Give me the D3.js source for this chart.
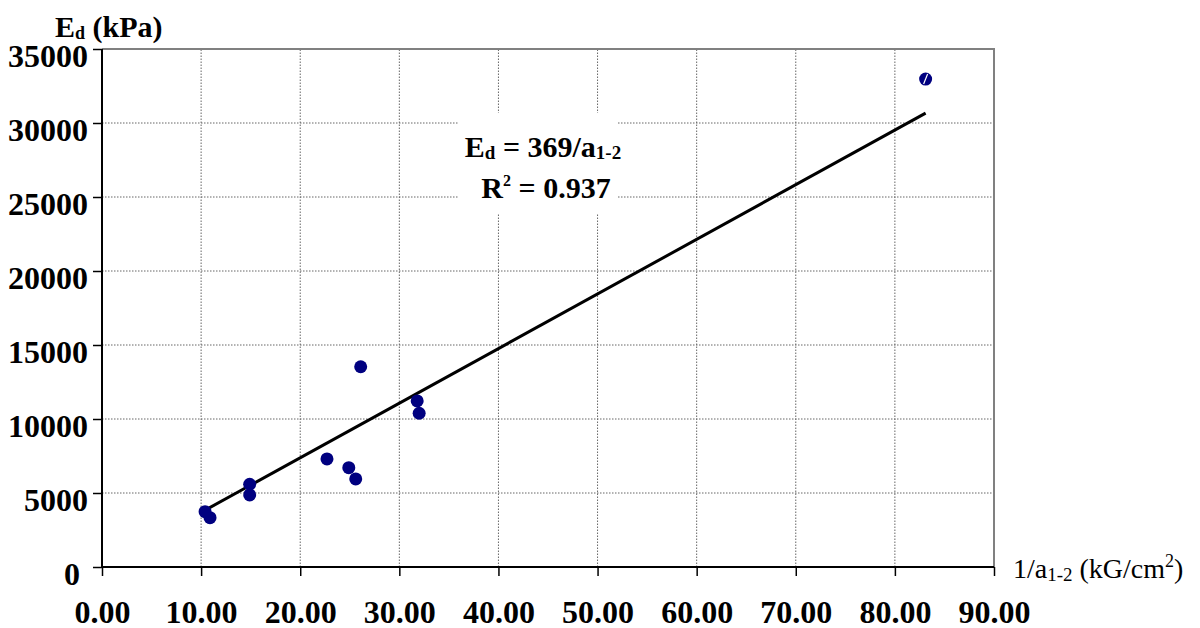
<!DOCTYPE html>
<html>
<head>
<meta charset="utf-8">
<script src="https://cdn.jsdelivr.net/npm/d3@7"></script>
<style>
  body { margin: 0; background: #fff; }
  svg text { font-family: 'Liberation Serif', 'Times New Roman', serif; }
</style>
</head>
<body>
<svg id="chart" width="1200" height="628"></svg>
<script>
// values
const invA = [10.4, 10.9, 14.9, 14.9, 22.7, 24.9, 25.6, 26.1, 31.8, 32.0, 83.1];
const edKpa = [3740, 3330, 5590, 4870, 7300, 6710, 5950, 13530, 11220, 10390, 32970];
const xTicks = [0, 10, 20, 30, 40, 50, 60, 70, 80, 90];
const yTicks = [0, 5000, 10000, 15000, 20000, 25000, 30000, 35000];
const trendSlope = 369;
const trendRange = [10.6, 83.1];

const svg = d3.select('#chart');
const x = d3.scaleLinear().domain([0, 90]).range([102, 994]);
const y = d3.scaleLinear().domain([0, 35000]).range([567, 49]);

// grid
svg.append('g')
  .selectAll('line')
  .data(xTicks.slice(1, -1))
  .enter().append('line')
  .attr('x1', d => x(d)).attr('x2', d => x(d))
  .attr('y1', y(0)).attr('y2', y(35000))
  .attr('stroke', '#666').attr('stroke-width', 1).attr('stroke-dasharray', '1.5,1.5');

svg.append('g')
  .selectAll('line')
  .data(yTicks.slice(1, -1))
  .enter().append('line')
  .attr('x1', x(0)).attr('x2', x(90))
  .attr('y1', d => y(d)).attr('y2', d => y(d))
  .attr('stroke', '#666').attr('stroke-width', 1).attr('stroke-dasharray', '1.5,1.5');

// grey frame top + right
svg.append('path')
  .attr('d', `M${x(0)},${y(35000)}H${x(90)}V${y(0)}`)
  .attr('fill', 'none').attr('stroke', '#808080').attr('stroke-width', 2);

// axes
const yAxis = svg.append('g')
  .attr('transform', `translate(${x(0)},0)`)
  .call(d3.axisLeft(y).tickValues(yTicks).tickSize(9).tickPadding(5).tickFormat(d3.format('d')));
const xAxis = svg.append('g')
  .attr('transform', `translate(0,${y(0)})`)
  .call(d3.axisBottom(x).tickValues(xTicks).tickSize(9).tickPadding(24).tickFormat(d3.format('.2f')));

[yAxis, xAxis].forEach(a => {
  a.select('.domain').attr('stroke', '#000').attr('stroke-width', 2);
  a.selectAll('.tick line').attr('stroke', '#000').attr('stroke-width', 1.5);
  a.selectAll('.tick text')
    .attr('font-family', "'Liberation Serif', serif")
    .attr('font-size', 32).attr('font-weight', 'bold').attr('fill', '#000');
});
yAxis.selectAll('.tick text').attr('dy', '0.56em');
yAxis.selectAll('.tick').filter(d => d === 0).select('text').attr('x', -22);
yAxis.select('.domain').attr('d', `M0,${y(0)}V${y(35000)}`);
xAxis.select('.domain').attr('d', `M${x(0)},0H${x(90)}`);

// annotation box
svg.append('rect')
  .attr('x', 458).attr('y', 113).attr('width', 159).attr('height', 100)
  .attr('fill', '#fff');

// trend line
svg.append('line')
  .attr('x1', x(trendRange[0])).attr('y1', y(trendSlope * trendRange[0]))
  .attr('x2', x(trendRange[1])).attr('y2', y(trendSlope * trendRange[1]))
  .attr('stroke', '#000').attr('stroke-width', 3);

// points
const pts = invA.map((v, i) => ({ x: v, y: edKpa[i] }));
svg.append('g')
  .selectAll('circle')
  .data(pts)
  .enter().append('circle')
  .attr('cx', d => x(d.x)).attr('cy', d => y(d.y))
  .attr('r', 6.5)
  .attr('fill', '#000080');

const last = pts[pts.length - 1];
svg.append('line')
  .attr('x1', x(last.x) - 2).attr('y1', y(last.y) + 5)
  .attr('x2', x(last.x) + 2).attr('y2', y(last.y) - 5)
  .attr('stroke', '#fff').attr('stroke-width', 1.2);

// y title
const yt = svg.append('text')
  .attr('x', 55).attr('y', 37)
  .attr('font-size', 30).attr('font-weight', 'bold');
yt.append('tspan').text('E');
yt.append('tspan').attr('font-size', 18).attr('dy', 2).text('d');
yt.append('tspan').attr('dy', -2).text(' (kPa)');

// annotation
const a1 = svg.append('text')
  .attr('x', 543).attr('y', 157)
  .attr('text-anchor', 'middle')
  .attr('font-size', 30).attr('font-weight', 'bold');
a1.append('tspan').text('E');
a1.append('tspan').attr('font-size', 19).attr('dy', 2).text('d');
a1.append('tspan').attr('dy', -2).text(' = 369/a');
a1.append('tspan').attr('font-size', 19).attr('dy', 2).text('1-2');

const a2 = svg.append('text')
  .attr('x', 546).attr('y', 198)
  .attr('text-anchor', 'middle')
  .attr('font-size', 30).attr('font-weight', 'bold');
a2.append('tspan').text('R');
a2.append('tspan').attr('font-size', 16).attr('dy', -12).text('2');
a2.append('tspan').attr('dy', 12).text(' = 0.937');

// x title
const xt = svg.append('text')
  .attr('x', 1013).attr('y', 578)
  .attr('font-size', 28);
xt.append('tspan').text('1/a');
xt.append('tspan').attr('font-size', 19).attr('dy', 3).text('1-2');
xt.append('tspan').attr('dy', -3).text(' (kG/cm');
xt.append('tspan').attr('font-size', 18).attr('dy', -11).text('2');
xt.append('tspan').attr('dy', 11).text(')');
</script>
</body>
</html>
